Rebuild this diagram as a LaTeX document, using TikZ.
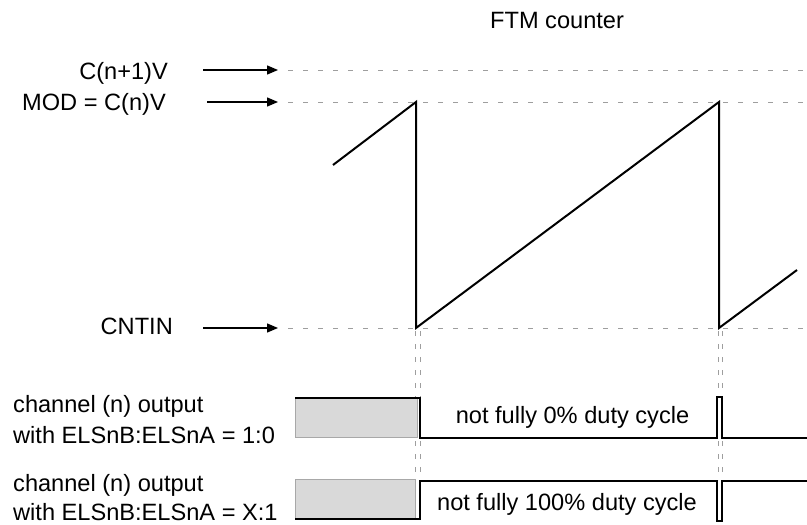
\documentclass[tikz,border=0pt]{standalone}
\usepackage{fontspec}
\setmainfont{Liberation Sans}
\usetikzlibrary{arrows.meta}
\definecolor{guide}{HTML}{9E9E9E}
\definecolor{boxfill}{HTML}{D9D9D9}
\definecolor{boxedge}{HTML}{A8A8A8}
\tikzset{
  lbl/.style={inner sep=0pt, font=\fontsize{23.6}{30.8}\selectfont},
  guideline/.style={draw=guide, line width=1pt, dash pattern=on 5pt off 10pt},
  vguide/.style={draw=guide, line width=1pt, dash pattern=on 5pt off 8pt},
  pointer/.style={draw=black, line width=1.4pt, -{Triangle[length=11pt,width=9pt]}},
  wave/.style={draw=black, line width=2pt, line join=miter},
  graybox/.style={fill=boxfill, draw=boxedge, line width=1pt}
}
\begin{document}
\begin{tikzpicture}[x=1pt,y=-1pt]
\useasboundingbox (0,0) rectangle (807,525);

% title
\node[lbl, anchor=base west] (title) at (490,28) {FTM counter};

% level labels
\node[lbl, anchor=base east] (lc1) at (168,79) {C(n+1)V};
\node[lbl, anchor=base east] (lmod) at (166,110) {MOD = C(n)V};
\node[lbl, anchor=base east] (lcnt) at (173,334) {CNTIN};

% arrow endpoints
\coordinate (a1s) at (203,70);  \coordinate (a1e) at (278,70);
\coordinate (a2s) at (207,102); \coordinate (a2e) at (278,102);
\coordinate (a3s) at (203,328); \coordinate (a3e) at (278,328);
\draw[pointer] (a1s) -- (a1e);
\draw[pointer] (a2s) -- (a2e);
\draw[pointer] (a3s) -- (a3e);

% horizontal guide lines
\coordinate (g1s) at (288,70);  \coordinate (g1e) at (807,70);
\coordinate (g2s) at (288,102); \coordinate (g2e) at (807,102);
\coordinate (g3s) at (288,328); \coordinate (g3e) at (807,328);
\draw[guideline] (g1s) -- (g1e);
\draw[guideline] (g2s) -- (g2e);
\draw[guideline] (g3s) -- (g3e);

% vertical guide lines
\foreach \x in {415,420,718,722}{
  \draw[vguide] (\x,331) -- (\x,397);
  \draw[vguide] (\x,441) -- (\x,480);
}

% sawtooth
\coordinate (s0) at (333,165);
\coordinate (p1) at (416,102);
\coordinate (b1) at (416,328);
\coordinate (p2) at (719,102);
\coordinate (b2) at (719,328);
\coordinate (s3) at (797,270);
\draw[wave] (s0) -- (p1) -- (b1) -- (p2) -- (b2) -- (s3);

% channel output 1:0
\node[lbl, anchor=base west] (l1a) at (13,412.5) {channel (n) output};
\node[lbl, anchor=base west] (l1b) at (13,443) {with ELSnB:ELSnA = 1:0};
\fill[graybox] (295,398) rectangle (417,437);
\draw[wave] (295,398) -- (420,398) -- (420,438) -- (717,438) -- (717,397) -- (722,397) -- (722,438) -- (807,438);
\node[lbl, anchor=base] (t1) at (572.5,423) {not fully 0\% duty cycle};

% channel output X:1
\node[lbl, anchor=base west] (l2a) at (13,491) {channel (n) output};
\node[lbl, anchor=base west] (l2b) at (13,520.5) {with ELSnB:ELSnA = X:1};
\fill[graybox] (295,479) rectangle (415,518);
\draw[wave] (295,519) -- (420,519) -- (420,481) -- (717,481) -- (717,521) -- (722,521) -- (722,481) -- (807,481);
\node[lbl, anchor=base] (t2) at (567,510) {not fully 100\% duty cycle};
\end{tikzpicture}
\end{document}
